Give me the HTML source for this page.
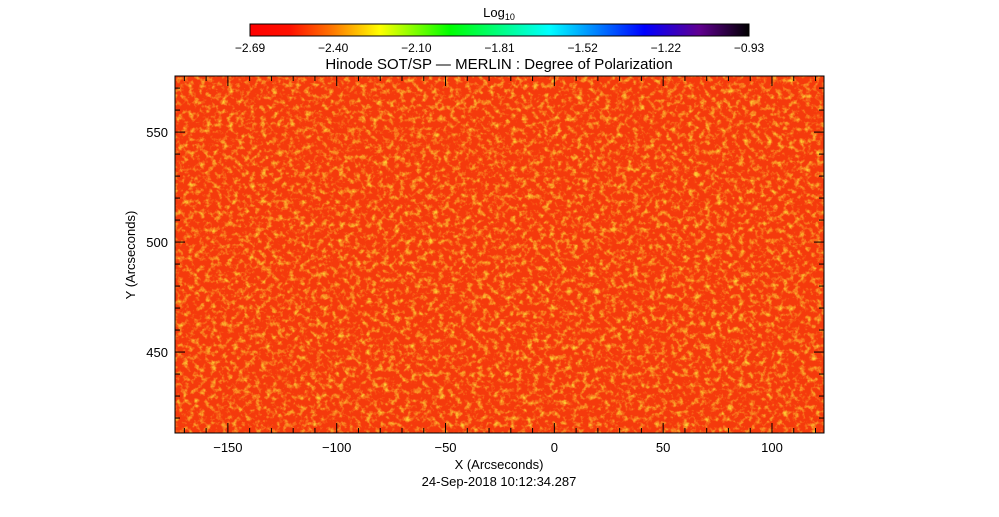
<!DOCTYPE html>
<html><head><meta charset="utf-8">
<style>
html,body{margin:0;padding:0;background:#fff;}
svg text{font-family:"Liberation Sans",sans-serif;fill:#000;}
</style></head>
<body>
<svg id="chart" width="999" height="512" viewBox="0 0 999 512">
<defs>
<linearGradient id="cmap" x1="0" x2="1" y1="0" y2="0">
<stop offset="0" stop-color="#ff0000"/>
<stop offset="0.08" stop-color="#ff1000"/>
<stop offset="0.16" stop-color="#ff7000"/>
<stop offset="0.26" stop-color="#ffff00"/>
<stop offset="0.4" stop-color="#00ff00"/>
<stop offset="0.6" stop-color="#00ffff"/>
<stop offset="0.79" stop-color="#0000ff"/>
<stop offset="0.9" stop-color="#600090"/>
<stop offset="1" stop-color="#000000"/>
</linearGradient>
<filter id="noise" x="0" y="0" width="100%" height="100%">
<feTurbulence type="fractalNoise" baseFrequency="0.18" numOctaves="3" seed="7" result="n"/>
<feColorMatrix type="matrix" values="0 0 0 0 1  0 0 0 0 0.9  0 0 0 0 0.05  2.6 0 0 0 -1.25"/>
</filter>
<clipPath id="plotclip"><rect x="175" y="76" width="649" height="357"/></clipPath>
</defs>
<g id="heatmap" clip-path="url(#plotclip)">
<rect x="175" y="76" width="649" height="357" fill="#f53a0c"/>
<rect x="175" y="76" width="649" height="357" filter="url(#noise)" opacity="0.8"/>
</g>
<rect x="175" y="76" width="649" height="357" fill="none" stroke="#000" stroke-width="1"/>
<g id="axes"></g>
<g id="colorbar">
<rect x="250" y="24" width="499" height="12" fill="url(#cmap)" stroke="#000" stroke-width="1"/>
</g>
<text x="499" y="17" font-size="13" text-anchor="middle">Log<tspan font-size="9" dy="3">10</tspan></text>
<text x="499" y="69" font-size="15" text-anchor="middle">Hinode SOT/SP — MERLIN : Degree of Polarization</text>
<text x="499" y="469" font-size="13" text-anchor="middle">X (Arcseconds)</text>
<text x="499" y="486" font-size="13" text-anchor="middle">24-Sep-2018 10:12:34.287</text>
<text x="135" y="255" font-size="13" text-anchor="middle" transform="rotate(-90 135 255)">Y (Arcseconds)</text>
</svg>
<script>
const xTicks=[-150,-100,-50,0,50,100];
const yTicks=[450,500,550];
const cbTicks=["-2.69","-2.40","-2.10","-1.81","-1.52","-1.22","-0.93"];
const xMin=-174.3,xMax=123.9,yMin=413.2,yMax=575.5;
const L=175,R=824,T=76,B=433;
const sx=v=>L+(v-xMin)/(xMax-xMin)*(R-L);
const sy=v=>B-(v-yMin)/(yMax-yMin)*(B-T);
const NS="http://www.w3.org/2000/svg";
const ax=document.getElementById('axes');
function line(x1,y1,x2,y2){const l=document.createElementNS(NS,'line');l.setAttribute('x1',x1);l.setAttribute('y1',y1);l.setAttribute('x2',x2);l.setAttribute('y2',y2);l.setAttribute('stroke','#000');l.setAttribute('stroke-width','1');ax.appendChild(l);return l;}
function txt(x,y,s,anchor,size){const t=document.createElementNS(NS,'text');t.setAttribute('x',x);t.setAttribute('y',y);t.setAttribute('font-size',size);t.setAttribute('text-anchor',anchor);t.textContent=s.replace(/-/g,'\u2212');ax.appendChild(t);return t;}
for(let v=-170;v<=120;v+=10){const x=sx(v);const maj=v%50===0;
 const a=line(x,B,x,B-(maj?10:5));
 const b=line(x,T,x,T+(maj?10:5));}
for(let v=420;v<=570;v+=10){const y=sy(v);const maj=v%50===0;
 const a=line(L,y,L+(maj?10:5),y);
 const b=line(R,y,R-(maj?10:5),y);}
xTicks.forEach(v=>{const t=txt(sx(v),452,String(v),'middle',13);});
yTicks.forEach(v=>{const t=txt(L-7,sy(v)+5,String(v),'end',13);});
cbTicks.forEach((s,i)=>{const x=250+i*499/(cbTicks.length-1);
 const a=line(x,36,x,31);
 const b=line(x,24,x,29);
 const t=txt(x,52,s,'middle',12);});
</script>
</body></html>
